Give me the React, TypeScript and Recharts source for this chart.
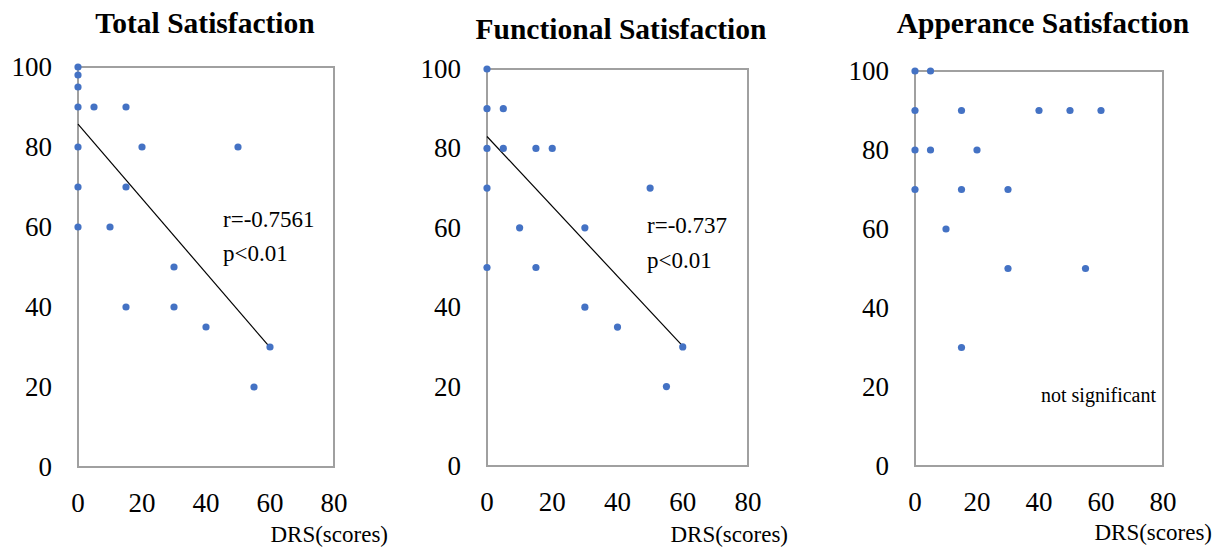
import React from "react";
import {
    ScatterChart,
    Scatter,
    XAxis,
    YAxis,
    ReferenceArea,
    ReferenceLine,
} from "recharts";

const xTicks = [0, 20, 40, 60, 80];
const yTicks = [0, 20, 40, 60, 80, 100];

// DRS score vs satisfaction
const totalDrs = [0, 0, 0, 0, 5, 15, 0, 20, 50, 0, 15, 0, 10, 30, 15, 30, 40, 60, 55];
const totalScore = [100, 98, 95, 90, 90, 90, 80, 80, 80, 70, 70, 60, 60, 50, 40, 40, 35, 30, 20];

const functionalDrs = [0, 0, 5, 0, 5, 15, 20, 0, 50, 10, 30, 0, 15, 30, 40, 60, 55];
const functionalScore = [100, 90, 90, 80, 80, 80, 80, 70, 70, 60, 60, 50, 50, 40, 35, 30, 20];

const appearanceDrs = [0, 5, 0, 15, 40, 50, 60, 0, 5, 20, 0, 15, 30, 10, 30, 55, 15];
const appearanceScore = [100, 100, 90, 90, 90, 90, 90, 80, 80, 80, 70, 70, 70, 60, 50, 50, 30];

// regression line end points (x = 0 and x = 60)
const trendX = [0, 60];
const totalTrend = [85.7, 29.9];
const functionalTrend = [83, 30.2];

const font = "Liberation Serif, Times New Roman, DejaVu Serif, serif";
const dotColor = "#4472C4";

const toPoints = (xs: number[], ys: number[]) => xs.map((x, i) => ({ x, y: ys[i] }));

const XTick = (p: any) => (
    <text x={p.x} y={p.y} dy={20} textAnchor="middle" fontSize={27} style={{ fontFamily: font }} fill="#000">
        {p.payload.value}
    </text>
);

const YTick = (p: any) => (
    <text x={p.x} y={p.y} dy={9} textAnchor="end" fontSize={27} style={{ fontFamily: font }} fill="#000">
        {p.payload.value}
    </text>
);

interface PanelProps {
    left: number;
    box: { l: number; t: number; r: number; b: number };
    drs: number[];
    score: number[];
    trend?: number[];
}

function Panel({ left, box, drs, score, trend }: PanelProps) {
    const width = 408;
    const height = 552;
    const yAxisWidth = 60;
    const xAxisHeight = 40;
    const margin = {
        top: box.t,
        left: box.l - left - yAxisWidth,
        right: left + width - box.r,
        bottom: height - box.b - xAxisHeight,
    };

    return (
        <div style={{ position: "absolute", left, top: 0 }}>
            <ScatterChart width={width} height={height} margin={margin} style={{ fontFamily: font }}>
                <XAxis
                    type="number"
                    dataKey="x"
                    domain={[0, 80]}
                    ticks={xTicks}
                    axisLine={false}
                    tickLine={false}
                    tickSize={0}
                    tickMargin={25}
                    height={xAxisHeight}
                    tick={<XTick />}
                />
                <YAxis
                    type="number"
                    dataKey="y"
                    domain={[0, 100]}
                    ticks={yTicks}
                    axisLine={false}
                    tickLine={false}
                    tickSize={0}
                    tickMargin={26}
                    width={yAxisWidth}
                    tick={<YTick />}
                />
                <ReferenceArea x1={0} x2={80} y1={0} y2={100} fill="none" stroke="#a0a0a0" strokeWidth={2} />
                {trend && (
                    <ReferenceLine
                        segment={[
                            { x: trendX[0], y: trend[0] },
                            { x: trendX[1], y: trend[1] },
                        ]}
                        stroke="#000"
                        strokeWidth={1.2}
                    />
                )}
                <Scatter
                    data={toPoints(drs, score)}
                    isAnimationActive={false}
                    shape={(p: any) => <circle cx={p.cx} cy={p.cy} r={3.6} fill={dotColor} />}
                />
            </ScatterChart>
        </div>
    );
}

export default function App() {
    return (
        <div style={{ position: "absolute", left: 0, top: 0, width: 1224, height: 552, background: "#fff", fontFamily: font }}>
            <Panel left={0} box={{ l: 78, t: 67, r: 334, b: 467 }} drs={totalDrs} score={totalScore} trend={totalTrend} />
            <Panel left={408} box={{ l: 487, t: 69, r: 748, b: 466 }} drs={functionalDrs} score={functionalScore} trend={functionalTrend} />
            <Panel left={816} box={{ l: 915, t: 71, r: 1163, b: 466 }} drs={appearanceDrs} score={appearanceScore} />
            <svg width={1224} height={552} style={{ position: "absolute", left: 0, top: 0, pointerEvents: "none", fontFamily: font }}>
                <g fill="#000">
                    <text x={205} y={33} fontSize={29.5} fontWeight="bold" textAnchor="middle">Total Satisfaction</text>
                    <text x={621} y={39} fontSize={29.5} fontWeight="bold" textAnchor="middle">Functional Satisfaction</text>
                    <text x={1043} y={33} fontSize={29.5} fontWeight="bold" textAnchor="middle">Apperance Satisfaction</text>

                    <text x={223} y={227} fontSize={23}>r=-0.7561</text>
                    <text x={223} y={261} fontSize={23}>p&lt;0.01</text>
                    <text x={647} y={233} fontSize={23}>r=-0.737</text>
                    <text x={647} y={268} fontSize={23}>p&lt;0.01</text>
                    <text x={1156} y={402} fontSize={20} textAnchor="end">not significant</text>

                    <text x={388} y={542} fontSize={23} textAnchor="end">DRS(scores)</text>
                    <text x={788} y={542} fontSize={23} textAnchor="end">DRS(scores)</text>
                    <text x={1212} y={540} fontSize={23} textAnchor="end">DRS(scores)</text>
                </g>
            </svg>
        </div>
    );
}
